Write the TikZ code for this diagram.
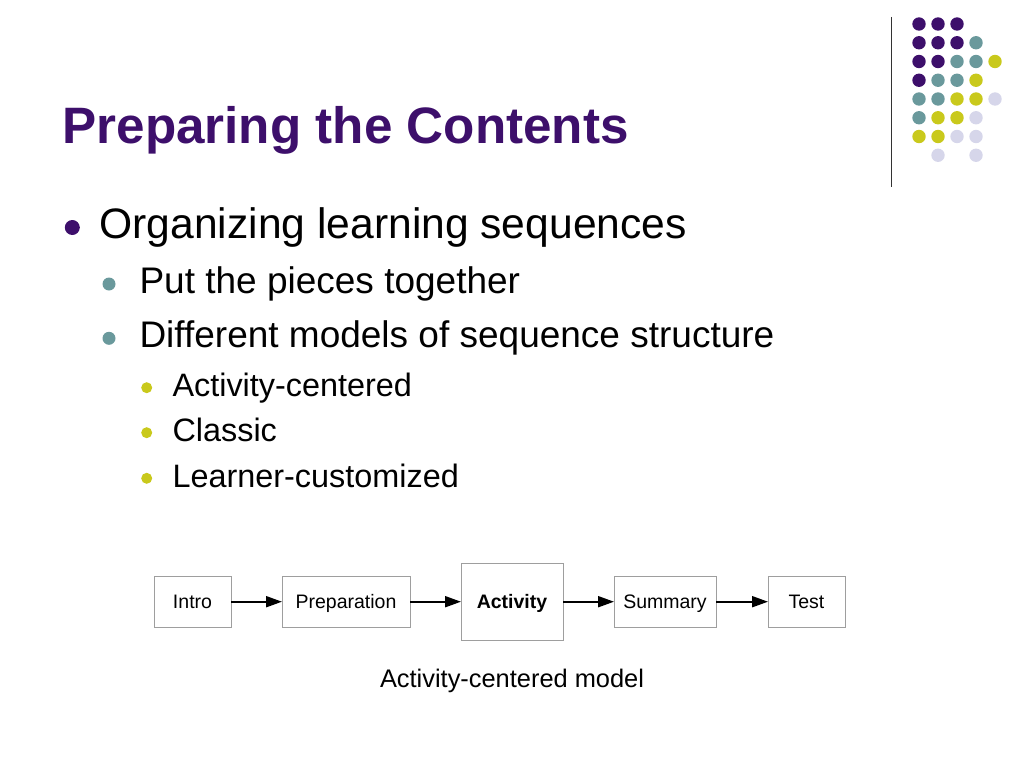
\documentclass[tikz,border=0pt]{standalone}
\usepackage{fontspec}
\setmainfont{Liberation Sans}
\usetikzlibrary{positioning,arrows.meta}
\definecolor{titlepurple}{HTML}{3D0F6B}
\definecolor{dotteal}{HTML}{6A999C}
\definecolor{dotyellow}{HTML}{C9C91C}
\definecolor{dotlilac}{HTML}{D6D6EA}

\begin{document}
\begin{tikzpicture}[x=1pt, y=-1pt, >={Triangle[length=16pt,width=11pt]},
  lvla/.style={anchor=base west, font=\fontsize{42.6}{50}\selectfont},
  lvlb/.style={anchor=base west, font=\fontsize{37}{44}\selectfont},
  lvlc/.style={anchor=base west, font=\fontsize{32.4}{39}\selectfont},
  stage/.style={draw=black!38, line width=1pt, inner sep=0pt, outer sep=0pt, minimum height=51pt,
    text height=13.9pt, text depth=0pt, font=\fontsize{19.5}{23}\selectfont},
  flow/.style={->, line width=2pt}]
\useasboundingbox (0,0) rectangle (1024,768);
% corner dots
\draw [line width=1.5pt, black!80] (891.7,17) -- (891.7,187);
\foreach \i/\j in {1/1,2/1,3/1,1/2,2/2,3/2,1/3,2/3,1/4}
  \fill [titlepurple] ({919+19*(\i-1)},{24+18.75*(\j-1)}) circle (6.7);
\foreach \i/\j in {4/2,3/3,4/3,2/4,3/4,1/5,2/5,1/6}
  \fill [dotteal] ({919+19*(\i-1)},{24+18.75*(\j-1)}) circle (6.7);
\foreach \i/\j in {5/3,4/4,3/5,4/5,2/6,3/6,1/7,2/7}
  \fill [dotyellow] ({919+19*(\i-1)},{24+18.75*(\j-1)}) circle (6.7);
\foreach \i/\j in {5/5,4/6,3/7,4/7,2/8,4/8}
  \fill [dotlilac] ({919+19*(\i-1)},{24+18.75*(\j-1)}) circle (6.7);
% title and bullets
\node [anchor=base west, text=titlepurple, font=\fontsize{51.2}{60}\bfseries] (title) at (59,143) {Preparing the Contents};
\fill [titlepurple] (72.3,227.5) circle (7.5);
\node [lvla] (org) at (96,238) {Organizing learning sequences};
\fill [dotteal] (109,284) circle (6.5);
\node [lvlb] (put) at (136,293.5) {Put the pieces together};
\fill [dotteal] (109,338.3) circle (6.5);
\node [lvlb] (models) at (136,347.5) {Different models of sequence structure};
\foreach \y/\t [count=\k] in {387.7/Activity-centered, 432.7/Classic, 478.3/Learner-customized} {
  \fill [dotyellow] (146.7,\y) circle (5.5);
  \node [lvlc] (sub\k) at (169,\y+8.7) {\t};
}
% the sequence
\node [stage, minimum width=77pt] (intro) at (192.5,601.7) {Intro};
\node [stage, minimum width=128pt, right=51pt of intro] (prep) {Preparation};
\node [stage, minimum width=102pt, minimum height=77pt, right=51pt of prep, font=\fontsize{19.5}{23}\bfseries] (act) {Activity};
\node [stage, minimum width=102pt, right=51pt of act] (summ) {Summary};
\node [stage, minimum width=77pt, right=52pt of summ] (test) {Test};
\draw [flow] (intro) -- (prep);
\draw [flow] (prep) -- (act);
\draw [flow] (act) -- (summ);
\draw [flow] (summ) -- (test);
\node [anchor=base, font=\fontsize{25.4}{30}\selectfont] (caption) at (512,687) {Activity-centered model};
\end{tikzpicture}
\end{document}
